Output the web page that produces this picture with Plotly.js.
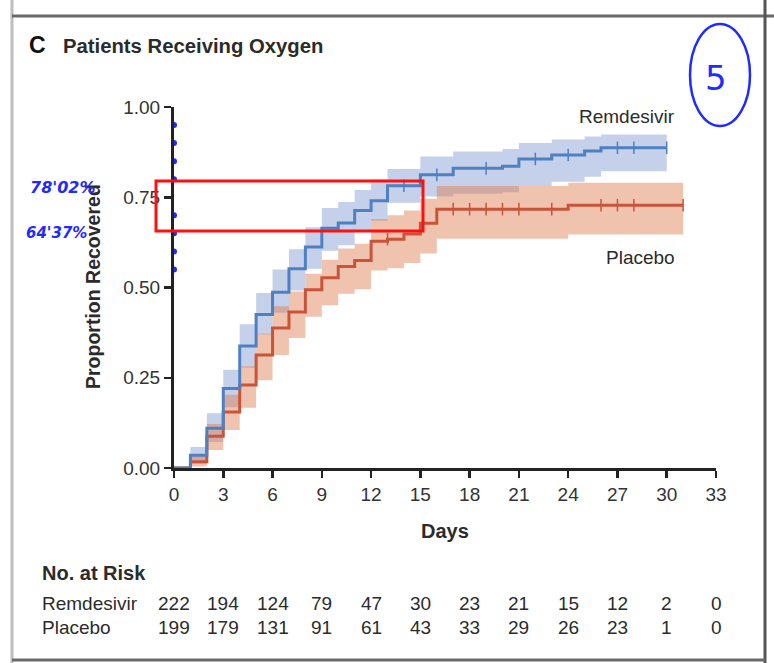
<!DOCTYPE html>
<html><head><meta charset="utf-8">
<script src="https://cdn.plot.ly/plotly-3.0.1.min.js"></script>
<style>html,body{margin:0;padding:0;background:#fff}#chart{width:774px;height:663px}</style>
</head><body><div id="chart"></div>
<script>
// ---- data ----
const remDays  = [0,1,2,3,4,5,6,7,8,9,10,11,12,13,15,17,20,21,23,25,26,30];
const remProp  = [0,0.035,0.11,0.22,0.338,0.425,0.487,0.552,0.612,0.664,0.679,0.713,0.740,0.782,0.812,0.830,0.836,0.856,0.867,0.878,0.887,0.887];
const remUpper = [0,0.058,0.152,0.272,0.398,0.485,0.55,0.606,0.667,0.72,0.737,0.77,0.799,0.828,0.863,0.877,0.884,0.90,0.91,0.918,0.924,0.924];
const remLower = [0,0.012,0.072,0.168,0.278,0.37,0.43,0.492,0.552,0.602,0.617,0.655,0.685,0.735,0.752,0.76,0.764,0.781,0.793,0.807,0.822,0.822];
const remCensor = [14,16,19,22,24,27,28,30];

const plaDays  = [0,1,2,3,4,5,6,7,8,9,10,11,12,13,14,15,16,24,31];
const plaProp  = [0,0.017,0.088,0.155,0.23,0.313,0.388,0.432,0.494,0.527,0.558,0.575,0.628,0.634,0.648,0.678,0.717,0.728,0.728];
const plaUpper = [0,0.036,0.122,0.203,0.282,0.372,0.448,0.489,0.538,0.577,0.608,0.621,0.69,0.70,0.713,0.746,0.781,0.79,0.79];
const plaLower = [0,0.004,0.05,0.105,0.167,0.243,0.313,0.36,0.419,0.451,0.483,0.495,0.547,0.553,0.568,0.594,0.635,0.647,0.647];
const plaCensor = [13,17,18,19,20,21,23,26,27,28,31];

const riskDays = [0,3,6,9,12,15,18,21,24,27,30,33];
const remRisk  = [222,194,124,79,47,30,23,21,15,12,2,0];
const plaRisk  = [199,179,131,91,61,43,33,29,26,23,1,0];

const yTickVals = [0,0.25,0.5,0.75,1];
const yTickText = ['0.00','0.25','0.50','0.75','1.00'];
const penDots = [0.95,0.90,0.85,0.80,0.70,0.65,0.60,0.55];
const penNotes = ["78'02%","64'37%"];

// ---- helpers ----
function stepAt(days, vals, d){ let v = vals[0]; for (let i=0;i<days.length;i++){ if (days[i] <= d) v = vals[i]; } return v; }
const L=174, R=58, T=107, B=195, W=774-L-R, H=663-T-B;
const px = p => (p-L)/W;
const py = p => (468-p)/H;

const BLUE='#4f80c0', RED='#c8543a';
const FONT='Liberation Sans, Arial, sans-serif';
const TXT='#2b2b2b';

const traces = [
  {x:remDays,y:remLower,mode:'lines',line:{width:0,shape:'hv'},hoverinfo:'skip',showlegend:false},
  {x:remDays,y:remUpper,mode:'lines',line:{width:0,shape:'hv'},fill:'tonexty',fillcolor:'rgba(126,150,208,0.45)',hoverinfo:'skip',showlegend:false},
  {x:plaDays,y:plaLower,mode:'lines',line:{width:0,shape:'hv'},hoverinfo:'skip',showlegend:false},
  {x:plaDays,y:plaUpper,mode:'lines',line:{width:0,shape:'hv'},fill:'tonexty',fillcolor:'rgba(222,122,78,0.45)',hoverinfo:'skip',showlegend:false},
  {x:plaDays,y:plaProp,mode:'lines',line:{color:RED,width:3,shape:'hv'},name:'Placebo',showlegend:false},
  {x:remDays,y:remProp,mode:'lines',line:{color:BLUE,width:3,shape:'hv'},name:'Remdesivir',showlegend:false},
  {x:plaCensor,y:plaCensor.map(d=>stepAt(plaDays,plaProp,d)),mode:'markers',marker:{symbol:'line-ns',size:9,line:{color:RED,width:1.5}},hoverinfo:'skip',showlegend:false},
  {x:remCensor,y:remCensor.map(d=>stepAt(remDays,remProp,d)),mode:'markers',marker:{symbol:'line-ns',size:9,line:{color:BLUE,width:1.5}},hoverinfo:'skip',showlegend:false},
  {x:penDots.map(()=>0),y:penDots,mode:'markers',marker:{color:'#1f2bff',size:6},cliponaxis:false,hoverinfo:'skip',showlegend:false}
];

const ann = [];
ann.push({xref:'paper',yref:'paper',x:px(27),y:py(45),xanchor:'left',yanchor:'middle',text:'<b>C</b>',showarrow:false,font:{family:FONT,size:23,color:'#111'}});
ann.push({xref:'paper',yref:'paper',x:px(61),y:py(46),xanchor:'left',yanchor:'middle',text:'<b>Patients Receiving Oxygen</b>',showarrow:false,font:{family:FONT,size:20.3,color:TXT}});
ann.push({xref:'x',yref:'y',x:30.6,y:0.975,xanchor:'right',yanchor:'middle',text:'Remdesivir',showarrow:false,font:{family:FONT,size:19,color:TXT}});
ann.push({xref:'x',yref:'y',x:30.6,y:0.582,xanchor:'right',yanchor:'middle',text:'Placebo',showarrow:false,font:{family:FONT,size:19,color:TXT}});
ann.push({xref:'paper',yref:'paper',x:0.5,y:py(531),xanchor:'center',yanchor:'middle',text:'<b>Days</b>',showarrow:false,font:{family:FONT,size:20,color:TXT}});
ann.push({xref:'paper',yref:'paper',x:px(93),y:py(287),xanchor:'center',yanchor:'middle',textangle:-90,text:'<b>Proportion Recovered</b>',showarrow:false,font:{family:FONT,size:19.5,color:TXT}});
ann.push({xref:'paper',yref:'paper',x:px(40),y:py(573),xanchor:'left',yanchor:'middle',text:'<b>No. at Risk</b>',showarrow:false,font:{family:FONT,size:20,color:TXT}});
ann.push({xref:'paper',yref:'paper',x:px(40),y:py(603),xanchor:'left',yanchor:'middle',text:'Remdesivir',showarrow:false,font:{family:FONT,size:19,color:TXT}});
ann.push({xref:'paper',yref:'paper',x:px(40),y:py(627),xanchor:'left',yanchor:'middle',text:'Placebo',showarrow:false,font:{family:FONT,size:19,color:TXT}});
riskDays.forEach((d,i)=>{
  ann.push({xref:'x',yref:'paper',x:d,y:py(603),xanchor:'center',yanchor:'middle',text:String(remRisk[i]),showarrow:false,font:{family:FONT,size:19,color:TXT}});
  ann.push({xref:'x',yref:'paper',x:d,y:py(627),xanchor:'center',yanchor:'middle',text:String(plaRisk[i]),showarrow:false,font:{family:FONT,size:19,color:TXT}});
});
// handwritten marks
ann.push({xref:'paper',yref:'paper',x:px(62),y:py(187),xanchor:'center',yanchor:'middle',text:'<b><i>'+penNotes[0]+'</i></b>',showarrow:false,font:{family:'DejaVu Sans, sans-serif',size:16,color:'#1f2bff'}});
ann.push({xref:'paper',yref:'paper',x:px(56),y:py(233),xanchor:'center',yanchor:'middle',text:'<b><i>'+penNotes[1]+'</i></b>',showarrow:false,font:{family:'DejaVu Sans, sans-serif',size:15,color:'#1f2bff'}});
ann.push({xref:'paper',yref:'paper',x:px(716),y:py(78),xanchor:'center',yanchor:'middle',text:'5',showarrow:false,font:{family:'DejaVu Sans, sans-serif',size:34,color:'#1f2bff'}});

const shapes = [
  // page frame
  {type:'line',xref:'paper',yref:'paper',x0:px(12),x1:px(12),y0:py(0),y1:py(663),line:{color:'#bdbdbd',width:3}},
  {type:'line',xref:'paper',yref:'paper',x0:px(12),x1:px(774),y0:py(16),y1:py(16),line:{color:'#6a6a6a',width:3}},
  {type:'line',xref:'paper',yref:'paper',x0:px(765),x1:px(765),y0:py(0),y1:py(663),line:{color:'#555',width:3}},
  {type:'line',xref:'paper',yref:'paper',x0:px(12),x1:px(765),y0:py(660),y1:py(660),line:{color:'#6a6a6a',width:3}},
  // red pen rectangle
  {type:'rect',xref:'paper',yref:'paper',x0:px(156),x1:px(423),y0:py(231),y1:py(181),line:{color:'#ff1010',width:3}},
  // blue pen circle
  {type:'circle',xref:'paper',yref:'paper',x0:px(690),x1:px(750),y0:py(126),y1:py(24),line:{color:'#1f2bff',width:2.5}}
];

const layout = {
  width:774,height:663,
  margin:{l:L,r:R,t:T,b:B,pad:0},
  paper_bgcolor:'#fff',plot_bgcolor:'#fff',
  showlegend:false,
  xaxis:{range:[0,33],tickmode:'array',tickvals:riskDays,ticks:'outside',ticklen:7,tickwidth:2.5,tickcolor:'#222',
         showline:true,linewidth:3,linecolor:'#222',showgrid:false,zeroline:false,layer:'below traces',
         tickfont:{family:FONT,size:19,color:'#333'},fixedrange:true},
  yaxis:{range:[0,1],tickmode:'array',tickvals:yTickVals,ticktext:yTickText,ticks:'outside',ticklen:7,tickwidth:2.5,tickcolor:'#222',
         showline:true,linewidth:3,linecolor:'#222',showgrid:false,zeroline:false,
         tickfont:{family:FONT,size:19,color:'#333'},fixedrange:true},
  annotations:ann,
  shapes:shapes
};
Plotly.newPlot('chart',traces,layout,{displayModeBar:false,staticPlot:true});
</script></body></html>
